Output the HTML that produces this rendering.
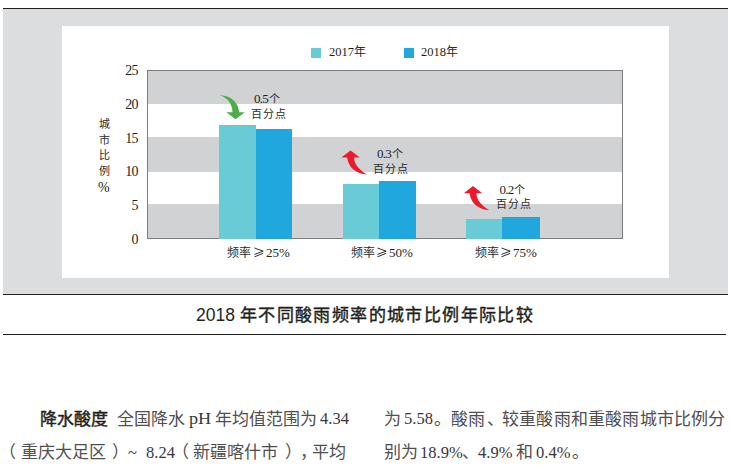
<!DOCTYPE html>
<html lang="zh-CN"><head><meta charset="utf-8">
<style>
*{margin:0;padding:0;box-sizing:border-box}
html,body{width:730px;height:466px;background:#fff;overflow:hidden;position:relative}
body{font-family:"Liberation Serif",serif;color:#231f20;text-spacing-trim:space-all}
.a{position:absolute}
.hl{position:absolute;height:1px;background:#231f20}
#gray{left:3px;top:9px;width:725px;height:285px;background:#dcdddf}
#panel{left:62px;top:26px;width:607px;height:252px;background:#fff}
#plot{left:147px;top:70px;width:476px;height:169px;border:1px solid #7d7d7f;background:#fff}
.band{position:absolute;left:0;width:100%;background:#d1d2d4}
.bar{position:absolute}
.c17{background:#69cbd6}
.c18{background:#1fa7de}
.t{position:absolute;white-space:nowrap;line-height:14px}
.yl{position:absolute;width:20px;text-align:right;font-size:14px;line-height:13px;left:118px;letter-spacing:-0.6px}
.cj{font-size:11px;color:#2d2b2c}
.d{font-size:13px}
.n{letter-spacing:-0.7px;margin-right:0.7px}
.lg{font-size:12.5px}
.lgc{font-size:12px;color:#2d2b2c}
.vt{position:absolute;left:98px;font-size:11px;line-height:15.6px;width:12px;text-align:center;color:#2d2b2c}
#title{position:absolute;top:304px;white-space:nowrap;font-family:"Liberation Sans",sans-serif;font-size:17.5px;line-height:22px;color:#231f20}
#title .c{font-weight:normal;font-size:17px;letter-spacing:1.4px;-webkit-text-stroke:0.4px #231f20}
.body{position:absolute;font-size:17px;line-height:20px;white-space:nowrap;color:#504e4f}
.body.l{font-size:16.5px;color:#3a3839}
.body b{font-family:"Liberation Sans",sans-serif;font-weight:normal;color:#231f20;-webkit-text-stroke:0.45px #231f20}
</style></head>
<body>
<div class="hl" style="left:3px;top:8px;width:725px"></div>
<div id="gray" class="a"></div>
<div class="hl" style="left:3px;top:294px;width:725px"></div>
<div id="panel" class="a"></div>

<!-- legend -->
<div class="a c17" style="left:311px;top:48px;width:10px;height:10px"></div>
<div class="t m" style="left:329px;top:44px"><span class="lg">2017</span><span class="lgc">年</span></div>
<div class="a c18" style="left:404px;top:48px;width:10px;height:10px"></div>
<div class="t m" style="left:421px;top:44px"><span class="lg">2018</span><span class="lgc">年</span></div>

<!-- plot -->
<div id="plot" class="a">
  <div class="band" style="top:0;height:33px"></div>
  <div class="band" style="top:66px;height:35px"></div>
  <div class="band" style="top:133px;height:34px"></div>
  <div class="bar c17" style="left:71px;top:54px;width:37px;height:114px"></div>
  <div class="bar c18" style="left:108px;top:58px;width:36px;height:110px"></div>
  <div class="bar c17" style="left:195px;top:113px;width:36px;height:55px"></div>
  <div class="bar c18" style="left:231px;top:110px;width:37px;height:58px"></div>
  <div class="bar c17" style="left:318px;top:147.5px;width:36px;height:20.5px"></div>
  <div class="bar c18" style="left:354px;top:146px;width:38px;height:22px"></div>
</div>

<!-- y labels -->
<div class="yl m" style="top:64px">25</div>
<div class="yl m" style="top:98px">20</div>
<div class="yl m" style="top:132px">15</div>
<div class="yl m" style="top:165px">10</div>
<div class="yl m" style="top:199px">5</div>
<div class="yl m" style="top:233px">0</div>

<div class="vt m" style="top:117px">城<br>市<br>比<br>例</div>
<div class="t m" style="left:98px;top:180.5px;font-size:14px">%</div>

<!-- x labels -->
<div class="t m cj" style="left:227px;top:245.5px;font-size:12px">频率</div>
<svg class="a" style="left:254px;top:247px" width="11" height="11" viewBox="0 0 11 11"><path d="M0.5 1 L9.2 4.2 L0.5 7.4 M0.5 9.8 L9.2 6.3" fill="none" stroke="#2d2b2c" stroke-width="1"/></svg>
<div class="t m d" style="left:266px;top:245.8px">25%</div>
<div class="t m cj" style="left:350.5px;top:245.5px;font-size:12px">频率</div>
<svg class="a" style="left:377px;top:247px" width="11" height="11" viewBox="0 0 11 11"><path d="M0.5 1 L9.2 4.2 L0.5 7.4 M0.5 9.8 L9.2 6.3" fill="none" stroke="#2d2b2c" stroke-width="1"/></svg>
<div class="t m d" style="left:389px;top:245.8px">50%</div>
<div class="t m cj" style="left:474.5px;top:245.5px;font-size:12px">频率</div>
<svg class="a" style="left:501px;top:247px" width="11" height="11" viewBox="0 0 11 11"><path d="M0.5 1 L9.2 4.2 L0.5 7.4 M0.5 9.8 L9.2 6.3" fill="none" stroke="#2d2b2c" stroke-width="1"/></svg>
<div class="t m d" style="left:513px;top:245.8px">75%</div>

<!-- annotations -->
<div class="t m" style="left:254px;top:90.7px"><span class="d n">0.5</span><span class="cj">个</span></div>
<div class="t m cj" style="left:251px;top:107px;letter-spacing:1px">百分点</div>
<div class="t m" style="left:377px;top:146px"><span class="d n">0.3</span><span class="cj">个</span></div>
<div class="t m cj" style="left:373px;top:162px;letter-spacing:1px">百分点</div>
<div class="t m" style="left:499.5px;top:181.5px"><span class="d n">0.2</span><span class="cj">个</span></div>
<div class="t m cj" style="left:496px;top:197px;letter-spacing:1px">百分点</div>

<svg class="a" style="left:0;top:0" width="730" height="300" viewBox="0 0 730 300">
  <defs>
    <path id="arr" d="M0 0 L9.2 7.2 L3.4 7.2 C3.6 13 7.8 19.5 16.2 24 C6 23.5 -2 18 -3.5 7.2 L-9.2 7.2 Z"/>
  </defs>
  <path fill="#4cad4a" transform="translate(235.6 119.3)" d="M0 0 L9.2 -7 L3.4 -7 C3.6 -15 -4 -24.5 -16.7 -24 C-8 -22.5 -3.2 -15 -3.1 -7 L-9.3 -7 Z"/>
  <use href="#arr" fill="#ec1b2b" transform="translate(350.6 150.4)"/>
  <use href="#arr" fill="#ec1b2b" transform="translate(473 186)"/>
</svg>

<div class="hl" style="left:3px;top:334px;width:723px"></div>
<div id="title" class="m" style="left:196px">2018 <span class="c">年不同酸雨频率的城市比例年际比较</span></div>

<div class="body m" style="left:40px;top:409.5px"><b>降水酸度</b></div>
<div class="body m" style="left:117px;top:409.5px">全国降水</div>
<div class="body l m" style="left:188.5px;top:409px;transform:scaleX(1.1);transform-origin:0 0">pH</div>
<div class="body m" style="left:215px;top:409.5px">年均值范围为</div>
<div class="body l m" style="left:320px;top:409px">4.34</div>
<div class="body m" style="left:-1px;top:443px">（</div>
<div class="body m" style="left:21px;top:443px">重庆大足区</div>
<div class="body m" style="left:112px;top:443px">）</div>
<div class="body l m" style="left:128px;top:443px">~</div>
<div class="body l m" style="left:146px;top:443px">8.24</div>
<div class="body m" style="left:172px;top:443px">（</div>
<div class="body m" style="left:193px;top:443px">新疆喀什市</div>
<div class="body m" style="left:285px;top:443px">）</div>
<div class="body m" style="left:300px;top:443px">，</div>
<div class="body m" style="left:312px;top:443px">平均</div>
<div class="body m" style="left:384px;top:409.5px">为</div>
<div class="body l m" style="left:404px;top:409px">5.58</div>
<div class="body m" style="left:434px;top:409.5px">。酸雨</div>
<div class="body m" style="left:487px;top:409.5px">、</div>
<div class="body m" style="left:502px;top:409.5px;letter-spacing:0.2px">较重酸雨和重酸雨城市比例分</div>
<div class="body m" style="left:384px;top:443px">别为</div>
<div class="body l m" style="left:420px;top:443px">18.9%</div>
<div class="body m" style="left:462px;top:443px">、</div>
<div class="body l m" style="left:478px;top:443px">4.9%</div>
<div class="body m" style="left:516px;top:443px">和</div>
<div class="body l m" style="left:536px;top:443px">0.4%</div>
<div class="body m" style="left:572px;top:443px">。</div>
</body></html>
